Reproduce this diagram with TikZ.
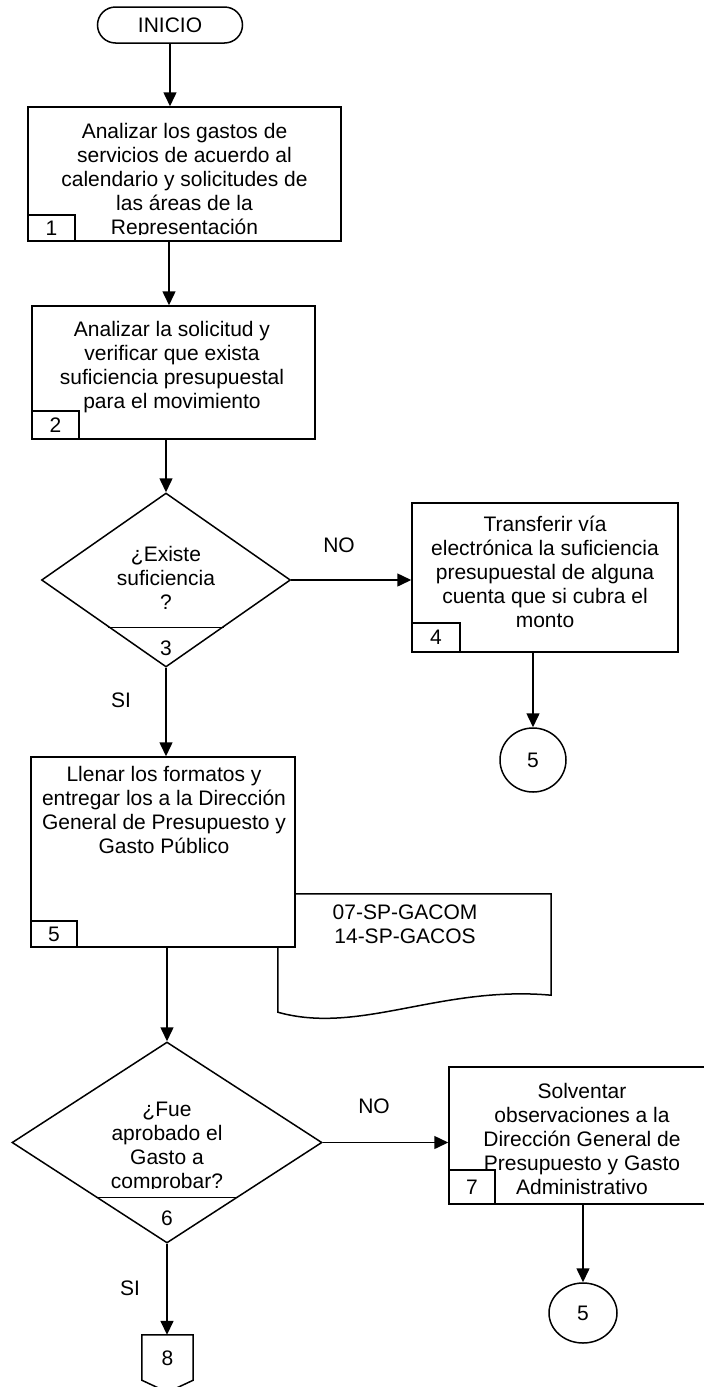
\documentclass[tikz,border=0pt]{standalone}
\usepackage{fontspec}
\setmainfont{Liberation Sans}
\usetikzlibrary{arrows.meta,shapes.geometric,shapes.misc,calc}

\begin{document}
\begin{tikzpicture}[x=1pt,y=-1pt,
  every node/.style={font=\fontsize{21}{24}\selectfont},
  line/.style={line width=1.5pt},
  arr/.style={line width=1.5pt,-{Triangle[length=14pt,width=13pt]}},
  box/.style={draw,line width=1.5pt,fill=white,inner sep=0pt},
  numbox/.style={draw,line width=1.5pt,inner sep=0pt,anchor=south west},
  txt/.style={align=center,inner sep=0pt,anchor=north},
  decision/.style={diamond,draw,line width=1.5pt,inner sep=0pt},
  connector/.style={ellipse,draw,line width=1.5pt,inner sep=0pt},
]
\useasboundingbox (0,0) rectangle (704,1387);

% start terminal
\node[rounded rectangle,draw,line width=1.5pt,minimum width=145pt,minimum height=36pt,inner sep=0pt] (inicio) at (170,25) {INICIO};

% step 1
\node[box,minimum width=313pt,minimum height=134pt] (b1) at (184.5,174) {};
\node[numbox,minimum width=47pt,minimum height=26pt] (n1) at (b1.south west) {1};
\begin{scope}
  \clip (b1.north west) rectangle ($(b1.south east)+(0,-7)$);
  \node[txt] (t1) at (184.5,123) {Analizar los gastos de\\servicios de acuerdo al\\calendario y solicitudes de\\las áreas de la\\Representación};
\end{scope}

% step 2
\node[box,minimum width=283pt,minimum height=133pt] (b2) at (173.5,372.5) {};
\node[numbox,minimum width=47pt,minimum height=28pt] (n2) at (b2.south west) {2};
\node[txt] (t2) at (172,321) {Analizar la solicitud y\\verificar que exista\\suficiencia presupuestal\\para el movimiento};

% decision 3
\node[decision,minimum width=249pt,minimum height=174pt] (d3) at (166,580) {};
\draw[line] ($(d3.south)!0.46!(d3.west)$) -- ($(d3.south)!0.46!(d3.east)$);
\node[inner sep=0pt] (n3) at (166,648) {3};
\node[txt] (t3) at (166,546) {¿Existe\\suficiencia\\?};

% step 4
\node[box,minimum width=266pt,minimum height=149pt] (b4) at (545,577.5) {};
\node[numbox,minimum width=48pt,minimum height=29pt] (n4) at (b4.south west) {4};
\node[txt] (t4) at (545,516) {Transferir vía\\electrónica la suficiencia\\presupuestal de alguna\\cuenta que si cubra el\\monto};

% connector after step 4
\node[connector,minimum width=66pt,minimum height=64pt] (c5a) at (533,760) {5};

% document attached to step 5
\node[inner sep=0pt,minimum width=273pt,minimum height=101pt] (doc) at (414.5,944.5) {};
\draw[line,fill=white] ($(doc.south west)+(0,17)$) -- (doc.north west) -- (doc.north east) -- (doc.south east)
  .. controls ($(doc.south east)+(-111,-10)$) and ($(doc.south west)+(82,40)$) .. ($(doc.south west)+(0,17)$) -- cycle;
\node[txt] (tdoc) at (405,905) {07-SP-GACOM\\14-SP-GACOS};

% step 5
\node[box,minimum width=264pt,minimum height=190pt] (b5) at (163,852) {};
\node[numbox,minimum width=46pt,minimum height=26pt] (n5) at (b5.south west) {5};
\node[txt] (t5) at (164,766) {Llenar los formatos y\\entregar los a la Dirección\\General de Presupuesto y\\Gasto Público};

% decision 6
\node[decision,minimum width=310pt,minimum height=201pt] (d6) at (167,1142.5) {};
\draw[line] ($(d6.south)!0.455!(d6.west)$) -- ($(d6.south)!0.455!(d6.east)$);
\node[inner sep=0pt] (n6) at (167,1218) {6};
\begin{scope}
  \clip (0,1040) rectangle (340,1188);
  \node[txt] (t6) at (167,1102) {¿Fue\\aprobado el\\Gasto a\\comprobar?};
\end{scope}

% step 7
\node[box,minimum width=257pt,minimum height=137pt] (b7) at (577.5,1135.5) {};
\node[numbox,minimum width=46pt,minimum height=34pt] (n7) at (b7.south west) {7};
\node[txt] (t7) at (582,1083) {Solventar\\observaciones a la\\Dirección General de\\Presupuesto y Gasto\\Administrativo};

% connector after step 7
\node[connector,minimum width=68pt,minimum height=60pt] (c5b) at (583,1313) {5};

% off-page connector 8
\node[inner sep=0pt,minimum width=51pt,minimum height=45pt] (off8) at (167.5,1357.5) {};
\draw[line] (off8.north west) -- (off8.north east) -- (off8.south east) -- ($(off8.south)+(0,12)$) -- (off8.south west) -- cycle;
\node[inner sep=0pt] (t8) at (167.5,1358) {8};

% branch labels
\node (no1) at (339,545) {NO};
\node (si1) at (121,700) {SI};
\node (no2) at (374,1106) {NO};
\node (si2) at (130,1288) {SI};

% flow
\coordinate (spine) at (169,0);
\draw[arr] (inicio.south) -- (inicio.south |- b1.north);
\draw[arr] (b1.south -| spine) -- (b2.north -| spine);
\draw[arr] (b2.south -| d3.north) -- (d3.north);
\draw[arr] (d3.east) -- (b4.west |- d3.east);
\draw[arr] (b4.south -| c5a.north) -- (c5a.north);
\draw[arr] (d3.south) -- (b5.north -| d3.south);
\draw[arr] (b5.south -| d6.north) -- (d6.north);
\draw[arr] (d6.east) -- (b7.west |- d6.east);
\draw[arr] (b7.south -| c5b.north) -- (c5b.north);
\draw[arr] (d6.south) -- (off8.north -| d6.south);
\end{tikzpicture}
\end{document}
